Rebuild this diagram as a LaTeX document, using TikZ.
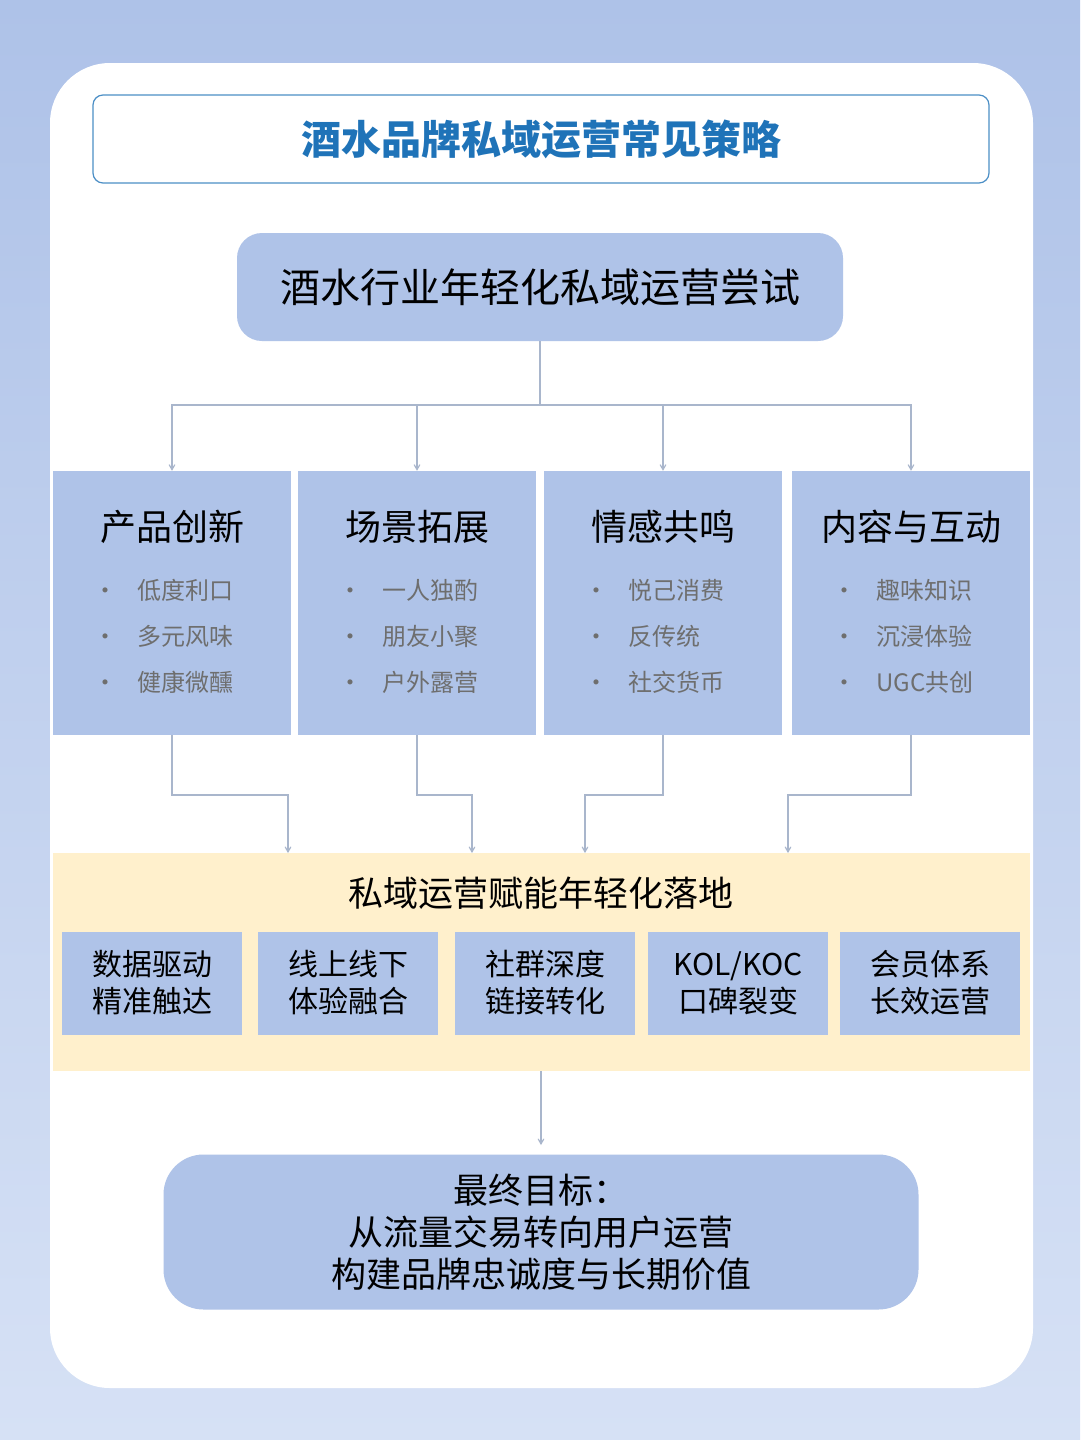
\documentclass[tikz,border=0pt]{standalone}
\usepackage{fontspec}
\setmainfont{Noto Sans CJK SC}
\usetikzlibrary{arrows}
\definecolor{bgtop}{HTML}{AEC2E8}
\definecolor{bgbot}{HTML}{D6E1F5}
\definecolor{boxblue}{HTML}{AFC3E8}
\definecolor{titleblue}{HTML}{1F73B8}
\definecolor{bandyellow}{HTML}{FFF0CC}
\definecolor{linegray}{HTML}{A9B6CC}
\definecolor{itemgray}{HTML}{6E6E6E}
\begin{document}
\begin{tikzpicture}[x=1pt, y=-1pt]
    \tikzstyle{block} = [fill=boxblue, inner sep=0pt, align=center]
    \tikzstyle{flow line} = [draw=linegray, line width=1.2pt]
    \tikzstyle{flow arrow} = [flow line, ->, >=angle 60]
    \tikzstyle{item} = [text=itemgray, font=\fontsize{24}{28}\selectfont, anchor=west]
\useasboundingbox (0,0) rectangle (1080,1440);
\shade[top color=bgtop, bottom color=bgbot] (0,0) rectangle (1080,1440);
\fill[white, rounded corners=60pt] (50,63) rectangle (1033,1388);
% title
\draw[titleblue!80, line width=1.2pt, fill=white, rounded corners=10pt] (93,95) rectangle (989,183);
\node[text=titleblue, font=\bfseries\fontsize{40}{44}\selectfont] (title) at (541,139) {酒水品牌私域运营常见策略};
% top block
\node[block, rounded corners=25pt, minimum width=606pt, minimum height=108pt, font=\fontsize{40}{44}\selectfont] (top) at (540,287) {酒水行业年轻化私域运营尝试};
\coordinate (split) at (540,405);
% four columns
\foreach \name/\x/\head/\a/\b/\c in {
    prod/172/产品创新/低度利口/多元风味/健康微醺,
    scene/417/场景拓展/一人独酌/朋友小聚/户外露营,
    emo/663/情感共鸣/悦己消费/反传统/社交货币,
    cont/911/内容与互动/趣味知识/沉浸体验/UGC共创}{
    \node[block, minimum width=238pt, minimum height=264pt] (\name) at (\x,603) {};
    \node[font=\fontsize{36}{40}\selectfont] (\name-head) at (\x,527) {\head};
    \node[item] (\name-a) at (\x-82,590) {•\hspace{20pt}\a};
    \node[item] (\name-b) at (\x-82,636) {•\hspace{20pt}\b};
    \node[item] (\name-c) at (\x-82,682) {•\hspace{20pt}\c};
}
\draw[flow line] (top.south) -- (split);
\foreach \name in {prod,scene,emo,cont}
    \draw[flow arrow] (split) -| (\name.north);
% band
\fill[bandyellow] (53,853) rectangle (1030,1071);
\node[font=\fontsize{35}{39}\selectfont] (band) at (541,893) {私域运营赋能年轻化落地};
\foreach \name/\x/\txt in {
    data/152/{数据驱动\\精准触达},
    online/348/{线上线下\\体验融合},
    group/545/{社群深度\\链接转化},
    kol/738/{KOL/KOC\\口碑裂变},
    member/930/{会员体系\\长效运营}}
    \node[block, minimum width=180pt, minimum height=103pt, font=\fontsize{30}{37}\selectfont] (\name) at (\x,983) {\txt};
\coordinate (in1) at (288,853);
\coordinate (in2) at (472,853);
\coordinate (in3) at (585,853);
\coordinate (in4) at (788,853);
\draw[flow arrow] (prod.south) |- (230,795) -| (in1);
\draw[flow arrow] (scene.south) |- (445,795) -| (in2);
\draw[flow arrow] (emo.south) |- (620,795) -| (in3);
\draw[flow arrow] (cont.south) |- (850,795) -| (in4);
% goal
\coordinate (bandout) at (541,1071);
\coordinate (goalin) at (541,1145);
\node[block, rounded corners=40pt, minimum width=755pt, minimum height=155pt, font=\fontsize{35}{42}\selectfont] (goal) at (541,1232) {最终目标：\\从流量交易转向用户运营\\构建品牌忠诚度与长期价值};
\draw[flow arrow] (bandout) -- (goalin);
\end{tikzpicture}
\end{document}
